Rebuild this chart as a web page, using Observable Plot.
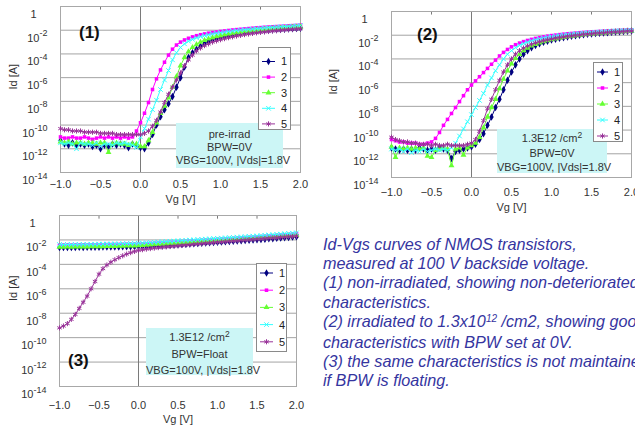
<!DOCTYPE html>
<html><head><meta charset="utf-8">
<script src="https://cdn.jsdelivr.net/npm/d3@7"></script>
<script src="https://cdn.jsdelivr.net/npm/@observablehq/plot@0.6"></script>
<style>
html,body{margin:0;padding:0;background:#fff;overflow:hidden;}
#root{position:relative;width:635px;height:428px;overflow:hidden;font-family:"Liberation Sans",Arial,sans-serif;background:#fff;}
.note{position:absolute;background:#ccf6f6;color:#333;font-size:11px;text-align:center;line-height:13px;white-space:nowrap;box-sizing:border-box;}
.plabel{position:absolute;font-weight:bold;font-size:17px;color:#111;line-height:18px;}
.sup{position:relative;top:-4px;font-size:8.5px;}
#desc{position:absolute;left:323px;top:235px;color:#35359f;font-style:italic;font-size:16.2px;line-height:19.2px;white-space:nowrap;}
#desc .s{position:relative;top:-5px;font-size:10px;}
</style></head><body><div id="root"></div><script>
// Gate voltage samples (V)
const vg = [-1,-0.95,-0.9,-0.85,-0.8,-0.75,-0.7,-0.65,-0.6,-0.55,-0.5,-0.45,-0.4,-0.35,-0.3,-0.25,-0.2,-0.15,-0.1,-0.05,0,0.05,0.1,0.15,0.2,0.25,0.3,0.35,0.4,0.45,0.5,0.55,0.6,0.65,0.7,0.75,0.8,0.85,0.9,0.95,1,1.05,1.1,1.15,1.2,1.25,1.3,1.35,1.4,1.45,1.5,1.55,1.6,1.65,1.7,1.75,1.8,1.85,1.9,1.95,2];
const series = ["1","2","3","4","5"];
// log10(Id [A])
// Panel (1) pre-irrad
const p1s1 = [-11.3,-11.6,-11.7,-11.5,-11.7,-11.6,-11.7,-11.6,-11.8,-11.7,-12.0,-11.7,-11.8,-11.6,-11.7,-11.6,-11.7,-11.9,-11.6,-11.7,-11.9,-12.0,-11.5,-10.8,-10.0,-9.3,-8.7,-8.2,-7.6,-6.8,-6.0,-5.1,-4.3,-3.9,-3.6,-3.35,-3.15,-2.95,-2.8,-2.7,-2.6,-2.52,-2.45,-2.38,-2.32,-2.27,-2.22,-2.18,-2.14,-2.1,-2.07,-2.04,-2.01,-1.98,-1.96,-1.93,-1.91,-1.89,-1.87,-1.85,-1.83];
const p1s2 = [-11.0,-11.1,-11.1,-11.0,-11.1,-11.1,-11.0,-11.1,-11.2,-11.1,-11.0,-11.1,-11.0,-11.1,-11.0,-11.1,-11.0,-11.1,-11.0,-10.5,-9.8,-9.0,-8.1,-7.0,-6.1,-5.35,-4.7,-4.1,-3.6,-3.25,-3.0,-2.82,-2.68,-2.56,-2.46,-2.38,-2.31,-2.25,-2.2,-2.15,-2.1,-2.06,-2.02,-1.98,-1.95,-1.92,-1.89,-1.86,-1.83,-1.8,-1.78,-1.75,-1.73,-1.71,-1.69,-1.67,-1.65,-1.63,-1.61,-1.59,-1.57];
const p1s3 = [-11.4,-11.5,-11.4,-11.6,-11.5,-11.5,-11.6,-11.5,-11.5,-11.6,-11.5,-11.5,-12.3,-11.6,-11.5,-11.6,-11.6,-11.7,-11.6,-11.6,-11.8,-11.8,-11.3,-10.6,-9.8,-9.0,-8.4,-7.7,-6.8,-5.9,-5.0,-4.3,-3.8,-3.45,-3.2,-3.0,-2.85,-2.73,-2.63,-2.54,-2.46,-2.39,-2.33,-2.27,-2.22,-2.17,-2.12,-2.08,-2.04,-2.0,-1.97,-1.94,-1.91,-1.88,-1.85,-1.82,-1.8,-1.78,-1.75,-1.73,-1.71];
const p1s4 = [-11.5,-11.6,-11.5,-11.6,-12.0,-11.5,-11.6,-11.6,-11.7,-11.5,-11.8,-11.6,-11.6,-11.7,-11.5,-11.6,-11.5,-11.6,-11.7,-11.9,-11.0,-10.3,-9.5,-8.7,-7.9,-7.0,-6.2,-5.4,-4.5,-3.9,-3.45,-3.15,-2.93,-2.77,-2.64,-2.54,-2.45,-2.38,-2.31,-2.25,-2.2,-2.15,-2.1,-2.06,-2.02,-1.98,-1.95,-1.92,-1.89,-1.86,-1.83,-1.8,-1.78,-1.76,-1.73,-1.71,-1.69,-1.67,-1.65,-1.63,-1.61];
const p1s5 = [-10.3,-10.4,-10.4,-10.5,-10.5,-10.5,-10.6,-10.6,-10.6,-10.6,-10.7,-10.7,-10.7,-10.7,-10.8,-10.8,-10.8,-10.8,-10.8,-10.8,-10.8,-10.7,-10.5,-10.1,-9.6,-8.9,-8.1,-7.4,-6.8,-6.2,-5.6,-5.0,-4.5,-4.1,-3.75,-3.5,-3.3,-3.15,-3.0,-2.9,-2.8,-2.71,-2.63,-2.56,-2.49,-2.43,-2.37,-2.32,-2.27,-2.22,-2.18,-2.14,-2.1,-2.06,-2.03,-2.0,-1.97,-1.94,-1.92,-1.89,-1.87];
// Panel (2) 1.3E12/cm2, BPW=0V
const p2s1 = [-11.5,-11.6,-11.7,-11.6,-11.7,-11.6,-11.7,-11.5,-11.6,-11.7,-11.6,-11.7,-11.5,-11.6,-11.7,-12.4,-11.8,-11.7,-11.6,-11.5,-11.4,-11.2,-10.8,-10.3,-9.6,-8.9,-8.1,-7.4,-6.6,-5.8,-5.1,-4.5,-4.0,-3.6,-3.3,-3.05,-2.87,-2.72,-2.6,-2.5,-2.41,-2.33,-2.26,-2.2,-2.14,-2.09,-2.04,-2.0,-1.96,-1.92,-1.89,-1.86,-1.83,-1.8,-1.78,-1.75,-1.73,-1.71,-1.69,-1.67,-1.65];
const p2s2 = [-10.8,-10.9,-11.0,-11.0,-11.1,-11.1,-11.1,-11.2,-11.2,-11.1,-11.0,-10.7,-10.2,-9.6,-9.1,-8.6,-8.1,-7.6,-7.1,-6.6,-6.2,-5.85,-5.5,-5.15,-4.8,-4.45,-4.1,-3.75,-3.45,-3.2,-2.98,-2.8,-2.66,-2.54,-2.44,-2.35,-2.27,-2.2,-2.14,-2.08,-2.03,-1.99,-1.95,-1.91,-1.88,-1.85,-1.82,-1.79,-1.76,-1.74,-1.72,-1.7,-1.68,-1.66,-1.64,-1.62,-1.61,-1.59,-1.58,-1.56,-1.55];
const p2s3 = [-11.4,-12.3,-11.5,-11.6,-11.5,-11.6,-11.5,-11.6,-11.5,-12.2,-12.3,-11.7,-11.6,-11.5,-11.6,-13.0,-11.6,-11.5,-12.1,-11.5,-11.3,-11.1,-10.6,-9.8,-8.9,-8.1,-7.4,-6.5,-5.7,-5.0,-4.4,-3.95,-3.6,-3.3,-3.08,-2.9,-2.76,-2.64,-2.54,-2.45,-2.37,-2.3,-2.23,-2.17,-2.12,-2.07,-2.02,-1.98,-1.94,-1.91,-1.88,-1.85,-1.82,-1.79,-1.77,-1.74,-1.72,-1.7,-1.68,-1.66,-1.64];
const p2s4 = [-11.6,-11.7,-11.6,-11.8,-11.6,-11.9,-11.7,-11.8,-11.6,-11.8,-11.7,-11.6,-11.7,-11.6,-11.7,-11.5,-11.1,-10.5,-9.9,-9.3,-8.7,-8.1,-7.5,-6.9,-6.2,-5.6,-5.0,-4.5,-4.0,-3.6,-3.3,-3.05,-2.86,-2.71,-2.58,-2.47,-2.38,-2.3,-2.23,-2.17,-2.11,-2.06,-2.01,-1.97,-1.93,-1.9,-1.87,-1.84,-1.81,-1.78,-1.76,-1.74,-1.72,-1.7,-1.68,-1.66,-1.64,-1.62,-1.61,-1.59,-1.58];
const p2s5 = [-10.6,-10.8,-10.9,-11.0,-11.0,-11.1,-11.1,-11.2,-11.2,-11.2,-11.3,-11.2,-11.3,-11.3,-11.2,-11.3,-11.3,-11.3,-11.3,-11.2,-11.1,-10.8,-10.1,-9.2,-8.2,-7.4,-6.6,-5.8,-5.1,-4.5,-4.0,-3.6,-3.3,-3.08,-2.9,-2.76,-2.64,-2.54,-2.45,-2.38,-2.31,-2.25,-2.19,-2.14,-2.09,-2.05,-2.01,-1.97,-1.93,-1.9,-1.87,-1.84,-1.81,-1.79,-1.76,-1.74,-1.72,-1.7,-1.68,-1.66,-1.64];
// Panel (3) 1.3E12/cm2, BPW=Float
const p3s1 = [-2.62,-2.62,-2.61,-2.62,-2.61,-2.6,-2.61,-2.6,-2.6,-2.59,-2.59,-2.58,-2.58,-2.58,-2.57,-2.57,-2.56,-2.56,-2.55,-2.55,-2.54,-2.53,-2.52,-2.51,-2.5,-2.48,-2.47,-2.45,-2.43,-2.41,-2.39,-2.37,-2.35,-2.33,-2.31,-2.29,-2.27,-2.25,-2.23,-2.21,-2.19,-2.17,-2.15,-2.13,-2.11,-2.09,-2.07,-2.05,-2.03,-2.01,-1.99,-1.96,-1.94,-1.91,-1.89,-1.86,-1.84,-1.81,-1.79,-1.76,-1.74];
const p3s2 = [-2.42,-2.42,-2.41,-2.42,-2.41,-2.41,-2.4,-2.41,-2.4,-2.4,-2.39,-2.39,-2.38,-2.38,-2.37,-2.37,-2.36,-2.35,-2.35,-2.34,-2.33,-2.32,-2.3,-2.28,-2.27,-2.25,-2.23,-2.21,-2.19,-2.17,-2.15,-2.13,-2.11,-2.09,-2.07,-2.05,-2.03,-2.01,-1.99,-1.97,-1.95,-1.93,-1.91,-1.89,-1.87,-1.85,-1.83,-1.81,-1.79,-1.77,-1.75,-1.72,-1.7,-1.67,-1.65,-1.62,-1.6,-1.57,-1.55,-1.52,-1.5];
const p3s3 = [-2.58,-2.58,-2.57,-2.58,-2.57,-2.57,-2.56,-2.56,-2.55,-2.55,-2.54,-2.54,-2.53,-2.52,-2.52,-2.51,-2.5,-2.49,-2.48,-2.47,-2.46,-2.44,-2.42,-2.4,-2.38,-2.36,-2.34,-2.32,-2.3,-2.28,-2.26,-2.24,-2.22,-2.2,-2.18,-2.16,-2.14,-2.12,-2.1,-2.08,-2.06,-2.04,-2.02,-2.0,-1.98,-1.96,-1.94,-1.92,-1.9,-1.88,-1.86,-1.84,-1.81,-1.79,-1.76,-1.74,-1.71,-1.69,-1.66,-1.64,-1.61];
const p3s4 = [-2.38,-2.38,-2.37,-2.38,-2.37,-2.37,-2.36,-2.36,-2.35,-2.35,-2.34,-2.34,-2.33,-2.33,-2.32,-2.32,-2.31,-2.3,-2.29,-2.28,-2.27,-2.25,-2.23,-2.21,-2.19,-2.17,-2.15,-2.13,-2.11,-2.09,-2.07,-2.05,-2.03,-2.01,-1.99,-1.97,-1.95,-1.93,-1.91,-1.89,-1.87,-1.85,-1.83,-1.81,-1.79,-1.77,-1.75,-1.73,-1.71,-1.69,-1.67,-1.64,-1.62,-1.59,-1.57,-1.54,-1.52,-1.49,-1.47,-1.44,-1.42];
const p3s5 = [-9.2,-9.05,-8.85,-8.5,-8.1,-7.6,-7.1,-6.6,-6.0,-5.4,-4.8,-4.35,-4.05,-3.82,-3.62,-3.45,-3.3,-3.16,-3.04,-2.94,-2.86,-2.8,-2.75,-2.71,-2.67,-2.63,-2.6,-2.57,-2.54,-2.51,-2.48,-2.45,-2.42,-2.39,-2.36,-2.33,-2.3,-2.27,-2.24,-2.21,-2.18,-2.16,-2.13,-2.11,-2.08,-2.06,-2.03,-2.01,-1.98,-1.96,-1.93,-1.91,-1.88,-1.86,-1.83,-1.81,-1.78,-1.76,-1.73,-1.71,-1.68];
// Axis ticks
const xTicks = [-1,-0.5,0,0.5,1,1.5,2];
const xTopTicks = [-0.5,0.5,1,1.5];
const yTicks = [1,1e-2,1e-4,1e-6,1e-8,1e-10,1e-12,1e-14];
// Annotation texts
const notes1 = ["pre-irrad","BPW=0V","VBG=100V, |Vds|=1.8V"];
const notes2 = ["1.3E12 /cm<span class='sup'>2</span>","BPW=0V","VBG=100V, |Vds|=1.8V"];
const notes3 = ["1.3E12 /cm<span class='sup'>2</span>","BPW=Float","VBG=100V, |Vds|=1.8V"];
const descLines = ["Id-Vgs curves of NMOS transistors,","measured at 100 V backside voltage.","(1) non-irradiated, showing non-deteriorated","characteristics.","(2) irradiated to 1.3x10<span class='s'>12</span> /cm2, showing good","characteristics with BPW set at 0V.","(3) the same characteristics is not maintained","if BPW is floating."];

// styles
const colors = ["#000080","#ff00ff","#66ff33","#33ffff","#993399"];
const symbols = ["diamond","square","triangle","times","asterisk"];
const d3sym = [d3.symbolDiamond,d3.symbolSquare,d3.symbolTriangle,d3.symbolTimes,d3.symbolAsterisk];
const filled = [true,true,true,false,false];
const rr = [2.3,2.0,2.2,2.2,2.4];

const root = document.getElementById("root");

const panels = [
  {label:"(1)", data:[p1s1,p1s2,p1s3,p1s4,p1s5], left:0, top:0, width:305, height:210, ml:60, mr:5, mt:6, mb:38, xPad:8, xLabDy:30, yLabDx:-47,
   notes:notes1, note:{left:176,top:123,w:107,h:45,pt:5,lh:13},
   leg:{left:258,top:47,w:33,h:83,y0:14.5,dy:15.6,lx0:4,lx1:17,tx:23},
   pl:{left:79,top:24}},
  {label:"(2)", data:[p2s1,p2s2,p2s3,p2s4,p2s5], left:320, top:0, width:315, height:215, ml:71, mr:4, mt:11, mb:38, xPad:11, xLabDy:33, yLabDx:-58,
   notes:notes2, note:{left:497,top:129,w:110,h:44,pt:2,lh:14},
   leg:{left:593,top:62,w:30,h:80,y0:10,dy:16,lx0:4,lx1:15,tx:21},
   pl:{left:417,top:26}},
  {label:"(3)", data:[p3s1,p3s2,p3s3,p3s4,p3s5], left:0, top:205, width:305, height:223, ml:59, mr:9, mt:10, mb:42, xPad:15, xLabDy:36, yLabDx:-46,
   notes:notes3, note:{left:146,top:328,w:107,h:47,pt:1,lh:16},
   leg:{left:256,top:263,w:31,h:89,y0:10,dy:17.2,lx0:4,lx1:17,tx:23},
   pl:{left:68,top:352}}
];

function yFmt(d){ if (d === 1) return "1"; return "10^-" + Math.round(-Math.log10(d)); }

function makePanel(cfg){
  const rows = [];
  cfg.data.forEach((arr,k)=>arr.forEach((v,i)=>rows.push({k, x:vg[i], y:Math.pow(10,v)})));
  const marks = [
    Plot.ruleY(yTicks,{stroke:"#a3a3a3",strokeWidth:1}),
    Plot.ruleX([0],{stroke:"#7a7a7a",strokeWidth:1}),
    Plot.ruleX(xTopTicks,{x:d=>d,y1:1,y2:Math.pow(10,-0.3),stroke:"#7a7a7a"}),
    Plot.frame({stroke:"#a8a8a8"})
  ];
  for (let k=0;k<5;k++){
    const d = rows.filter(r=>r.k===k);
    marks.push(Plot.line(d,{x:"x",y:"y",stroke:colors[k],strokeWidth:1}));
    marks.push(Plot.dot(d,{x:"x",y:"y",symbol:symbols[k],r:rr[k],
      fill: filled[k]?colors[k]:"none", stroke: filled[k]?"none":colors[k], strokeWidth:1}));
  }
  marks.push(Plot.axisX(xTicks,{tickSize:0,tickPadding:cfg.xPad,tickFormat:d3.format(".1f"),fontSize:11,label:null}));
  marks.push(Plot.axisY(yTicks,{tickSize:0,tickPadding:13,tickFormat:yFmt,fontSize:11,label:null}));
  marks.push(Plot.text(["Vg [V]"],{frameAnchor:"bottom",dy:cfg.xLabDy,fontSize:11,fill:"#333"}));
  marks.push(Plot.text(["Id [A]"],{frameAnchor:"left",dx:cfg.yLabDx,rotate:-90,fontSize:11,fill:"#333"}));
  const svg = Plot.plot({
    width:cfg.width, height:cfg.height,
    marginLeft:cfg.ml, marginRight:cfg.mr, marginTop:cfg.mt, marginBottom:cfg.mb,
    x:{domain:[-1,2], label:null},
    y:{type:"log", domain:[1e-14,1], label:null},
    style:{fontFamily:"'Liberation Sans',Arial,sans-serif", fontSize:"11px", color:"#333", background:"transparent", overflow:"visible"},
    marks
  });
  svg.querySelectorAll('g[aria-label="y-axis tick label"] text').forEach(t=>{
    const s = t.textContent;
    if (s.startsWith("10^")){
      t.textContent = "10";
      const ts = document.createElementNS("http://www.w3.org/2000/svg","tspan");
      ts.setAttribute("dy","-0.6em");
      ts.setAttribute("font-size","9");
      ts.textContent = s.slice(3);
      t.appendChild(ts);
    } else {
      t.setAttribute("dx","-11");
    }
    t.setAttribute("dy","0.72em");
  });
  svg.style.position = "absolute";
  svg.style.left = cfg.left + "px";
  svg.style.top = cfg.top + "px";
  root.appendChild(svg);

  // annotation box
  const n = document.createElement("div");
  n.className = "note";
  n.style.left = cfg.note.left+"px"; n.style.top = cfg.note.top+"px";
  n.style.width = cfg.note.w+"px"; n.style.height = cfg.note.h+"px";
  n.style.paddingTop = cfg.note.pt+"px"; n.style.lineHeight = cfg.note.lh+"px";
  n.innerHTML = cfg.notes.join("<br>");
  root.appendChild(n);

  // legend
  const L = cfg.leg;
  const lg = d3.create("svg").attr("width",L.w).attr("height",L.h)
    .style("position","absolute").style("left",L.left+"px").style("top",L.top+"px");
  lg.append("rect").attr("x",0.5).attr("y",0.5).attr("width",L.w-1).attr("height",L.h-1)
    .attr("fill","#fff").attr("stroke","#8a8a8a");
  series.forEach((s,k)=>{
    const y = L.y0 + k*L.dy;
    lg.append("line").attr("x1",L.lx0).attr("x2",L.lx1).attr("y1",y).attr("y2",y).attr("stroke",colors[k]);
    lg.append("path").attr("transform",`translate(${(L.lx0+L.lx1)/2},${y})`)
      .attr("d", d3.symbol(d3sym[k], Math.PI*rr[k]*rr[k])())
      .attr("fill", filled[k]?colors[k]:"none").attr("stroke", filled[k]?"none":colors[k]);
    lg.append("text").attr("x",L.tx).attr("y",y).attr("dy","0.36em")
      .attr("font-family","'Liberation Sans',Arial,sans-serif").attr("font-size",11).attr("fill","#222").text(s);
  });
  root.appendChild(lg.node());

  // panel label
  const p = document.createElement("div");
  p.className = "plabel";
  p.style.left = cfg.pl.left+"px"; p.style.top = cfg.pl.top+"px";
  p.textContent = cfg.label;
  root.appendChild(p);
}

panels.forEach(makePanel);

const desc = document.createElement("div");
desc.id = "desc";
desc.innerHTML = descLines.join("<br>");
root.appendChild(desc);
</script></body></html>
